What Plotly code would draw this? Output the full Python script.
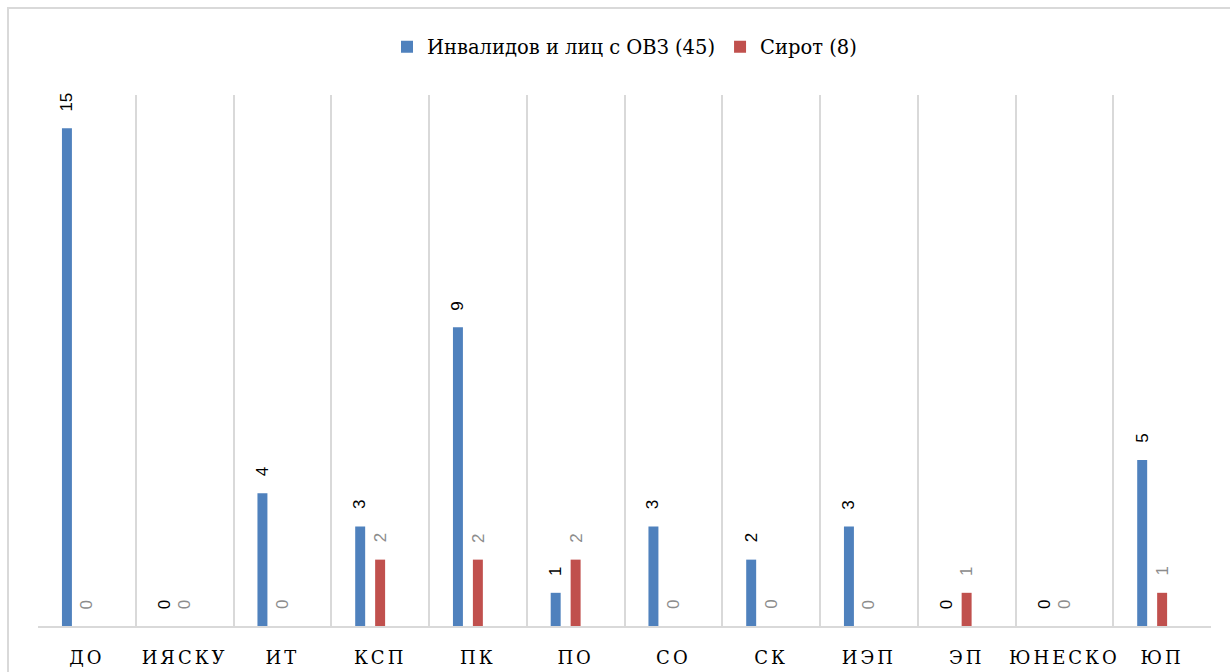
import plotly.graph_objects as go

categories = ["ДО", "ИЯСКУ", "ИТ", "КСП", "ПК", "ПО", "СО", "СК", "ИЭП", "ЭП", "ЮНЕСКО", "ЮП"]
disabled = [15, 0, 4, 3, 9, 1, 3, 2, 3, 0, 0, 5]
orphans = [0, 0, 0, 2, 2, 2, 0, 0, 0, 1, 0, 1]
name_disabled = "Инвалидов и лиц с ОВЗ (45)"
name_orphans = "Сирот (8)"

BLUE = "#4F81BD"
RED = "#C0504D"
GRID = "#D9D9D9"
BAR_W = 0.102
OFF_BLUE = -0.255
OFF_RED = -0.051
SERIF = "DejaVu Serif"

W, H = 1230, 672
L, R, T, B = 38, 19, 95, 46

fig = go.Figure()
fig.add_trace(go.Bar(x=categories, y=disabled, name=name_disabled, marker_color=BLUE,
                     width=BAR_W, offset=OFF_BLUE, marker_line_width=0))
fig.add_trace(go.Bar(x=categories, y=orphans, name=name_orphans, marker_color=RED,
                     width=BAR_W, offset=OFF_RED, marker_line_width=0))

annotations = []
for i, (a, b) in enumerate(zip(disabled, orphans)):
    annotations.append(dict(x=i + OFF_BLUE + BAR_W / 2, y=a, xref="x", yref="y", text=str(a),
                            showarrow=False, textangle=-90, yanchor="bottom", xanchor="center",
                            yshift=15, font=dict(family="Liberation Sans", size=17, color="#000000")))
    annotations.append(dict(x=i + OFF_RED + BAR_W / 2, y=b, xref="x", yref="y", text=str(b),
                            showarrow=False, textangle=-90, yanchor="bottom", xanchor="center",
                            yshift=15, font=dict(family="Liberation Sans", size=17, color="#8C8C8C")))

pw = W - L - R
ph = H - T - B
fig.add_shape(type="rect", xref="paper", yref="paper",
              x0=(8 - L) / pw, x1=(W + 10 - L) / pw,
              y0=(H - B - (H + 10)) / ph, y1=(H - B - 8) / ph,
              line=dict(color=GRID, width=2), fillcolor="rgba(0,0,0,0)", layer="below")

fig.update_layout(
    width=W, height=H,
    margin=dict(l=L, r=R, t=T, b=B, autoexpand=False),
    paper_bgcolor="white", plot_bgcolor="white",
    barmode="group",
    showlegend=True,
    legend=dict(orientation="h", x=0.5, xanchor="center", y=1 + 48 / ph, yanchor="middle",
                font=dict(family=SERIF, size=19.5, color="#000000"),
                itemwidth=30, traceorder="normal"),
    annotations=annotations,
    xaxis=dict(type="category", tickson="boundaries", showgrid=True, gridcolor=GRID, gridwidth=1.5,
               showline=True, linecolor=GRID, linewidth=2, ticks="", ticklabelstandoff=14,
               tickangle=0, automargin=False,
               tickfont=dict(family=SERIF, size=18, color="#000000"),
               range=[-0.5, 11.5], fixedrange=True),
    yaxis=dict(range=[0, 16], showgrid=False, showticklabels=False, zeroline=False,
               showline=False, fixedrange=True, automargin=False),
)

post = """
document.body.style.margin='0';
document.body.style.overflow='hidden';
document.querySelectorAll('.xtick text').forEach(function(t){ t.style.letterSpacing='3px'; });
"""
fig.write_html("out.html", post_script=post, config={"displayModeBar": False})
